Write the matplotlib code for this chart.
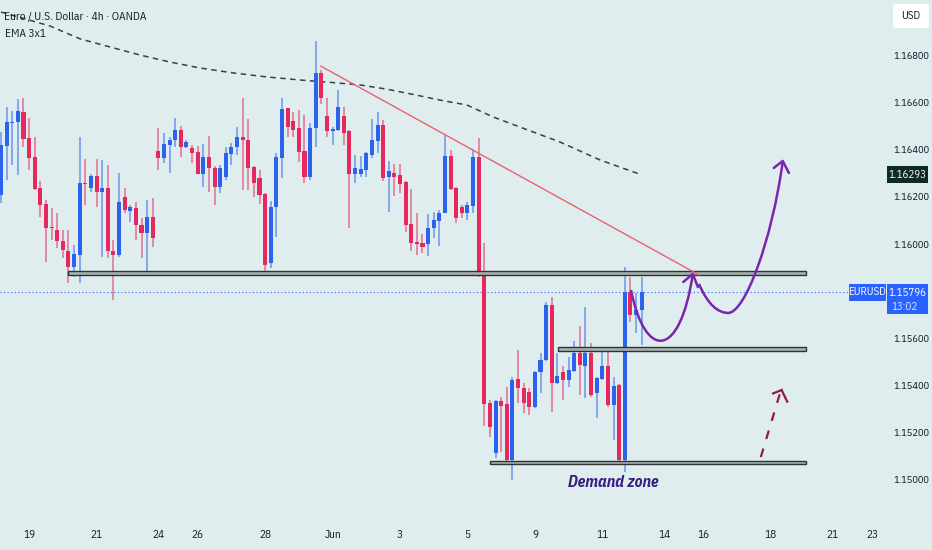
import matplotlib
matplotlib.use('Agg')
import matplotlib.pyplot as plt
from matplotlib.patches import Rectangle, FancyBboxPatch, PathPatch
from matplotlib.path import Path
from matplotlib.transforms import IdentityTransform
import numpy as np

plt.rcParams['font.family'] = ['IBM Plex Sans Condensed', 'DejaVu Sans']

# ---------------- data (EURUSD 4h candles) ----------------
opens = [1.16208, 1.16415, 1.16513, 1.16517, 1.16559, 1.16449, 1.16369, 1.16237, 1.16169, 1.16072,
         1.16059, 1.16013, 1.15970, 1.15903, 1.15953, 1.16258, 1.16237, 1.16288, 1.16220, 1.16237,
         1.15970, 1.15953, 1.16199, 1.16140, 1.16153, 1.16081, 1.16047, 1.16114, 1.16394, 1.16364,
         1.16419, 1.16441, 1.16483, 1.16411, 1.16407, 1.16390, 1.16297, 1.16369, 1.16322, 1.16242,
         1.16284, 1.16381, 1.16411, 1.16453, 1.16441, 1.16326, 1.16280, 1.16212, 1.15920, 1.16157,
         1.16364, 1.16576, 1.16521, 1.16492, 1.16394, 1.16284, 1.16492, 1.16725, 1.16542, 1.16479,
         1.16483, 1.16542, 1.16479, 1.16297, 1.16297, 1.16314, 1.16377, 1.16436, 1.16504, 1.16284,
         1.16301, 1.16292, 1.16263, 1.16085, 1.16008, 1.16004, 1.16000, 1.16068, 1.16097, 1.16131,
         1.16373, 1.16237, 1.16157, 1.16131, 1.16161, 1.16369, 1.15869, 1.15326, 1.15114, 1.15335,
         1.15322, 1.15085, 1.15428, 1.15390, 1.15373, 1.15309, 1.15458, 1.15508, 1.15742, 1.15411,
         1.15458, 1.15424, 1.15462, 1.15538, 1.15483, 1.15538, 1.15369, 1.15428, 1.15483, 1.15318,
         1.15403, 1.15085, 1.15797, 1.15699, 1.15720]
highs = [1.16475, 1.16581, 1.16564, 1.16614, 1.16619, 1.16534, 1.16453, 1.16267, 1.16186, 1.16153,
         1.16131, 1.16059, 1.16059, 1.15996, 1.16453, 1.16360, 1.16297, 1.16360, 1.16356, 1.16335,
         1.16017, 1.16301, 1.16237, 1.16165, 1.16178, 1.16110, 1.16186, 1.16195, 1.16492, 1.16470,
         1.16453, 1.16534, 1.16500, 1.16441, 1.16419, 1.16415, 1.16424, 1.16458, 1.16331, 1.16335,
         1.16411, 1.16428, 1.16496, 1.16619, 1.16530, 1.16331, 1.16314, 1.16216, 1.16182, 1.16386,
         1.16619, 1.16576, 1.16559, 1.16568, 1.16547, 1.16513, 1.16860, 1.16737, 1.16619, 1.16496,
         1.16653, 1.16581, 1.16483, 1.16377, 1.16373, 1.16390, 1.16530, 1.16559, 1.16525, 1.16352,
         1.16339, 1.16339, 1.16267, 1.16233, 1.16131, 1.16042, 1.16127, 1.16136, 1.16144, 1.16462,
         1.16398, 1.16242, 1.16165, 1.16178, 1.16403, 1.16449, 1.16004, 1.15339, 1.15339, 1.15352,
         1.15394, 1.15436, 1.15551, 1.15411, 1.15390, 1.15462, 1.15538, 1.15754, 1.15775, 1.15538,
         1.15483, 1.15521, 1.15589, 1.15653, 1.15733, 1.15581, 1.15436, 1.15559, 1.15559, 1.15436,
         1.15407, 1.15903, 1.15860, 1.15792, 1.15860]
lows = [1.16174, 1.16271, 1.16335, 1.16292, 1.16411, 1.16314, 1.16229, 1.16114, 1.15924, 1.16017,
        1.15983, 1.15941, 1.15835, 1.15860, 1.15835, 1.16165, 1.16220, 1.16157, 1.15945, 1.15941,
        1.15763, 1.15945, 1.16131, 1.16093, 1.16017, 1.15941, 1.15886, 1.15987, 1.16314, 1.16343,
        1.16301, 1.16411, 1.16369, 1.16407, 1.16343, 1.16297, 1.16242, 1.16220, 1.16165, 1.16216,
        1.16271, 1.16335, 1.16377, 1.16229, 1.16229, 1.16199, 1.16169, 1.15869, 1.15898, 1.16030,
        1.16280, 1.16453, 1.16453, 1.16347, 1.16258, 1.16271, 1.16411, 1.16593, 1.16453, 1.16419,
        1.16479, 1.16419, 1.16068, 1.16258, 1.16284, 1.16284, 1.16364, 1.16386, 1.16267, 1.16136,
        1.16203, 1.16216, 1.16051, 1.15970, 1.15953, 1.15962, 1.15949, 1.16025, 1.15992, 1.16131,
        1.16229, 1.16089, 1.16110, 1.16102, 1.16131, 1.15860, 1.15229, 1.15182, 1.15093, 1.15119,
        1.15076, 1.15000, 1.15326, 1.15284, 1.15275, 1.15305, 1.15369, 1.15504, 1.15288, 1.15407,
        1.15339, 1.15394, 1.15458, 1.15360, 1.15347, 1.15352, 1.15263, 1.15424, 1.15309, 1.15169,
        1.15076, 1.15034, 1.15670, 1.15623, 1.15572]
closes = [1.16419, 1.16517, 1.16517, 1.16564, 1.16445, 1.16364, 1.16233, 1.16165, 1.16068, 1.16066,
          1.16013, 1.15975, 1.15903, 1.15958, 1.16258, 1.16254, 1.16288, 1.16220, 1.16237, 1.15970,
          1.15953, 1.16178, 1.16144, 1.16157, 1.16081, 1.16047, 1.16114, 1.16025, 1.16364, 1.16424,
          1.16441, 1.16483, 1.16411, 1.16432, 1.16386, 1.16297, 1.16369, 1.16322, 1.16242, 1.16322,
          1.16386, 1.16411, 1.16453, 1.16441, 1.16322, 1.16258, 1.16208, 1.15911, 1.16157, 1.16369,
          1.16572, 1.16496, 1.16483, 1.16390, 1.16284, 1.16492, 1.16725, 1.16619, 1.16479, 1.16487,
          1.16581, 1.16470, 1.16297, 1.16322, 1.16318, 1.16386, 1.16441, 1.16504, 1.16280, 1.16309,
          1.16284, 1.16254, 1.16081, 1.16004, 1.16002, 1.15987, 1.16068, 1.16102, 1.16131, 1.16373,
          1.16233, 1.16110, 1.16131, 1.16165, 1.16369, 1.15869, 1.15322, 1.15225, 1.15335, 1.15314,
          1.15085, 1.15424, 1.15390, 1.15326, 1.15309, 1.15458, 1.15508, 1.15742, 1.15411, 1.15441,
          1.15424, 1.15466, 1.15538, 1.15487, 1.15538, 1.15360, 1.15432, 1.15483, 1.15318, 1.15398,
          1.15085, 1.15797, 1.15699, 1.15720, 1.15796]

# EMA read at sample bars
ema_bar = [0, 3.7, 8.7, 14.1, 19.4, 24.7, 30.1, 35.4, 41.3, 47.3, 53.2, 59.1, 63.9, 68.7,
           73.3, 78.1, 82.9, 87.5, 92.3, 99.5, 106.6, 114]
ema_val = [1.16983, 1.16958, 1.16924, 1.16869, 1.16835, 1.16801, 1.16771, 1.16746, 1.16725,
           1.16708, 1.16695, 1.16684, 1.16674, 1.16656, 1.16634, 1.16610, 1.16589, 1.16539,
           1.16496, 1.16432, 1.16356, 1.16293]

# x-axis day labels and their bar positions
tick_bars = [5, 17, 28, 35, 47, 59, 71, 83, 95, 107, 118, 125, 137, 148, 155]
tick_labels = ['19', '21', '24', '26', '28', 'Jun', '3', '5', '9', '11', '14', '16', '18', '21', '23']
price_ticks = [1.150, 1.152, 1.154, 1.156, 1.160, 1.162, 1.164, 1.166, 1.168]

# zones (support / resistance boxes)
zone_lo = [1.15867, 1.15548, 1.15067]
zone_hi = [1.15886, 1.15565, 1.15081]
zone_start = [11.9, 99.1, 87.0]
zone_end = 143.2

# trend line
tl_bar = [56.9, 124.2]
tl_price = [1.16754, 1.15869]

# ---------------- figure ----------------
W, H = 932, 550
BG = '#DFEDEF'
BLUE = '#2C63EC'
RED = '#E6285E'
TXT = '#131722'

fig = plt.figure(figsize=(W / 100, H / 100), dpi=100)
fig.patch.set_facecolor(BG)
ax = fig.add_axes([0, 28 / H, 885 / W, 522 / H])
ax.set_facecolor(BG)
for s in ax.spines.values():
    s.set_visible(False)

o = np.array(opens); h = np.array(highs); l = np.array(lows); c = np.array(closes)
xb = np.arange(len(o))
cols = np.where(c >= o, BLUE, RED)

ax.vlines(xb, l, h, colors=cols, lw=1.15, alpha=0.62, zorder=3)
body_bot = np.minimum(o, c)
body_h = np.maximum(np.abs(c - o), 0.00004)
ax.bar(xb, body_h, bottom=body_bot, width=0.72, color=cols, lw=0, zorder=4)

# EMA
ax.plot(ema_bar, ema_val, color='#3A3F44', lw=1.1, ls=(0, (3.6, 2.9)), zorder=2)

# zones
for lo_, hi_, st in zip(zone_lo, zone_hi, zone_start):
    ax.add_patch(Rectangle((st, lo_), zone_end - st, hi_ - lo_, facecolor='#A9B2B1',
                           edgecolor='#2E3434', lw=1.0, zorder=5))

# trend line
ax.plot(tl_bar, tl_price, color='#EE5F6F', lw=1.0, zorder=6)

# current price dotted line
ax.axhline(closes[-1], xmin=0, xmax=848 / 885, color='#2962FF', lw=0.8,
           ls=(0, (1, 2.2)), zorder=1)

# purple projected path
PURPLE = '#7A26AC'
verts = [(112.1, 1.15805), (114.6, 1.15508), (120.8, 1.15508), (123.1, 1.15873)]
codes = [Path.MOVETO, Path.CURVE4, Path.CURVE4, Path.CURVE4]
ax.add_patch(PathPatch(Path(verts, codes), facecolor='none', edgecolor=PURPLE, lw=1.8, zorder=7))
ax.plot([121.4, 123.1, 124.0], [1.15839, 1.15873, 1.15818], color=PURPLE, lw=1.8,
        solid_capstyle='round', zorder=7)
verts2 = [(124.2, 1.15831), (125.8, 1.15742), (127.6, 1.15708), (129.4, 1.15708),
          (132.4, 1.15708), (137.2, 1.16017), (139.1, 1.16350)]
codes2 = [Path.MOVETO] + [Path.CURVE4] * 6
ax.add_patch(PathPatch(Path(verts2, codes2), facecolor='none', edgecolor=PURPLE, lw=1.8, zorder=7))
ax.plot([137.5, 139.1, 140.2], [1.16322, 1.16352, 1.16301], color=PURPLE, lw=1.8,
        solid_capstyle='round', zorder=7)

# dashed maroon arrow
MAROON = '#8E1E40'
ax.plot([135.2, 138.6], [1.15097, 1.15366], color=MAROON, lw=1.6, ls=(0, (4, 4.5)), zorder=7)
ax.plot([137.4, 138.9], [1.15367, 1.15381], color=MAROON, lw=1.6, zorder=7)
ax.plot([138.9, 139.9], [1.15381, 1.15332], color=MAROON, lw=1.6, zorder=7)

# Demand zone label
ax.text(108.9, 1.14988, 'Demand zone', ha='center', va='center', fontsize=11.5,
        fontstyle='italic', fontweight='bold', color='#3A1F82', zorder=8)

# axes scales
ax.set_xlim(-0.18, 157.3)
ax.set_ylim(1.14822, 1.17034)
ax.set_xticks(tick_bars)
ax.set_xticklabels(tick_labels)
ax.yaxis.tick_right()
ax.set_yticks(price_ticks)
ax.set_yticklabels([f'{p:.5f}' for p in price_ticks])
ax.tick_params(axis='x', length=0, pad=5.4, labelsize=8, labelcolor=TXT)
ax.tick_params(axis='y', length=0, pad=5.8, labelsize=7.5, labelcolor=TXT)

# ---------------- overlay labels (pixel coords) ----------------
ID = IdentityTransform()

def ypix(p):
    return ax.transData.transform((0, p))[1]

fig.text(4, H - 17, 'Euro / U.S. Dollar · 4h · OANDA', transform=ID, fontsize=8.2,
         color=TXT, ha='left', va='center')
fig.text(5, H - 34, 'EMA 3x1', transform=ID, fontsize=8.2, color=TXT, ha='left', va='center')

# USD box
fig.add_artist(FancyBboxPatch((893, H - 28), 36, 24, boxstyle='round,pad=0,rounding_size=3',
                              transform=ID, facecolor='white', edgecolor='none'))
fig.text(911, H - 16, 'USD', transform=ID, fontsize=7.8, color=TXT, ha='center', va='center')

# EMA value label
ye = ypix(ema_val[-1])
fig.add_artist(Rectangle((887, ye - 8.5), 41, 17, transform=ID, facecolor='#0E2A26',
                         edgecolor='none'))
fig.text(907.5, ye, f'{ema_val[-1]:.5f}', transform=ID, fontsize=7.8, color='white',
         ha='center', va='center')

# current price labels
yc = ypix(closes[-1])
fig.add_artist(Rectangle((849, yc - 8.5), 37, 17, transform=ID, facecolor='#2962FF',
                         edgecolor='none'))
fig.text(867.5, yc, 'EURUSD', transform=ID, fontsize=7.8, color='white', ha='center', va='center')
fig.add_artist(Rectangle((887, yc - 22), 41, 30, transform=ID, facecolor='#2962FF',
                         edgecolor='none'))
fig.text(907.5, yc - 0.5, f'{closes[-1]:.5f}', transform=ID, fontsize=7.8, color='white',
         ha='center', va='center')
fig.text(905, yc - 14.5, '13:02', transform=ID, fontsize=7.8, color='#DDE6FF',
         ha='center', va='center')

fig.savefig('out.png', dpi=100, facecolor=BG)
